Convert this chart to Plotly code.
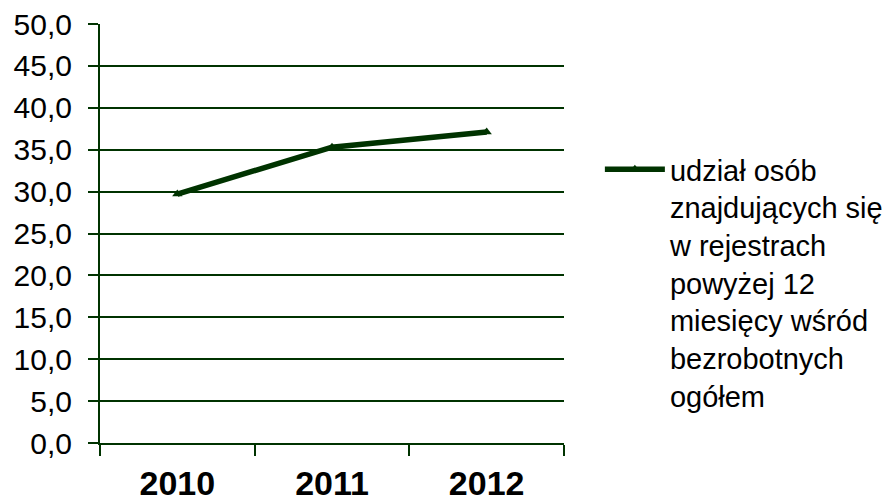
import plotly.graph_objects as go

years = ["2010", "2011", "2012"]
udzial = [29.7, 35.3, 37.1]
series_name = "udział osób<br>znajdujących się<br>w rejestrach<br>powyżej 12<br>miesięcy wśród<br>bezrobotnych<br>ogółem"

GREEN = "#003300"
FONT = "Arial, Liberation Sans, sans-serif"

fig = go.Figure()
fig.add_trace(go.Scatter(
    x=years, y=udzial, name=series_name,
    mode="lines+markers",
    line=dict(color=GREEN, width=5.5),
    marker=dict(symbol="triangle-up", size=9, color=GREEN),
))

# the page body adds an 8px offset, so margins are shifted to compensate
fig.update_layout(
    width=892, height=502,
    margin=dict(l=92, r=335, t=16, b=67),
    paper_bgcolor="white", plot_bgcolor="white",
    font=dict(family=FONT, color="black"),
    separators=",.",
    showlegend=True,
    legend=dict(
        x=1.075, y=0.714, xanchor="left", yanchor="top",
        valign="top", itemwidth=60, font=dict(size=29, family=FONT),
        bgcolor="rgba(0,0,0,0)",
    ),
)
fig.update_xaxes(
    type="category", range=[-0.5, 2.5], automargin=False,
    tickson="boundaries", ticks="outside", ticklen=11, tickcolor=GREEN, tickwidth=2,
    showline=True, linecolor=GREEN, linewidth=2,
    showgrid=False, zeroline=False,
    tickfont=dict(size=34, weight="bold", family=FONT),
    ticklabelstandoff=9,
)
fig.update_yaxes(
    range=[0, 50], dtick=5, tickformat=".1f", automargin=False,
    ticklabeloverflow="allow",
    ticks="outside", ticklen=10, tickcolor=GREEN, tickwidth=2,
    showline=True, linecolor=GREEN, linewidth=2,
    showgrid=True, gridcolor=GREEN, gridwidth=1.5,
    zeroline=False,
    tickfont=dict(size=30, family=FONT),
    ticklabelstandoff=10,
)

fig.write_html("out.html")
